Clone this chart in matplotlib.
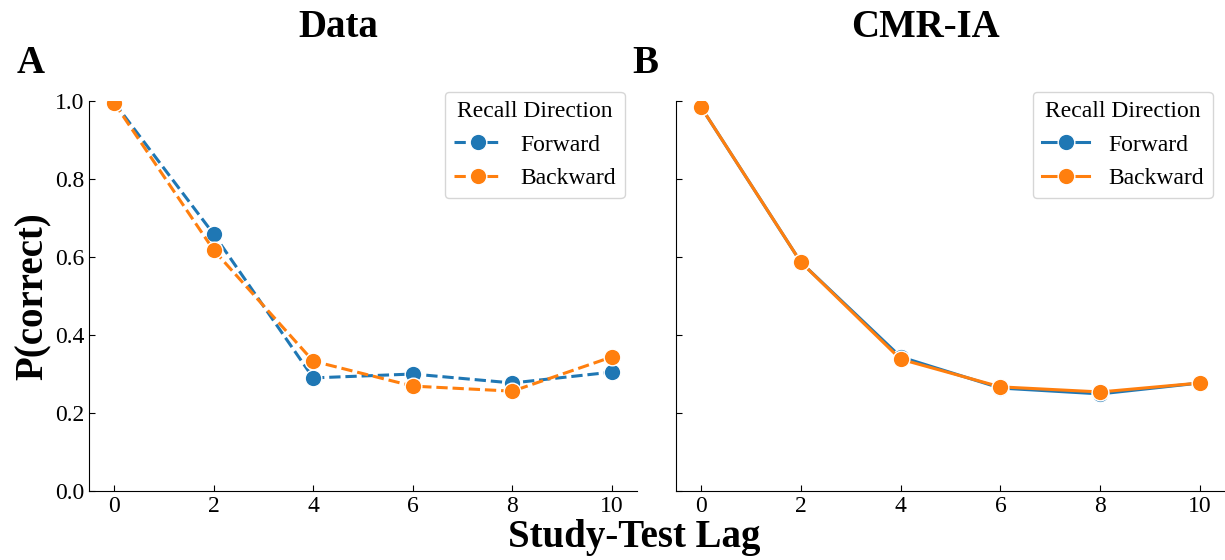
import numpy as np
import matplotlib
matplotlib.use('Agg')
import matplotlib.pyplot as plt
from matplotlib import rcParams

rcParams['font.family'] = 'serif'
rcParams['font.serif'] = ['Liberation Serif', 'DejaVu Serif']

# data
lags = [0, 2, 4, 6, 8, 10]
data_forward = [0.997, 0.659, 0.290, 0.300, 0.277, 0.305]
data_backward = [0.996, 0.618, 0.333, 0.269, 0.256, 0.344]
model_forward = [0.985, 0.587, 0.344, 0.264, 0.249, 0.277]
model_backward = [0.985, 0.587, 0.338, 0.267, 0.254, 0.277]

titles = ['Data', 'CMR-IA']
panel_letters = ['A', 'B']
series_labels = ['Forward', 'Backward']
legend_title = 'Recall Direction'
yticks = [0.0, 0.2, 0.4, 0.6, 0.8, 1.0]
xticks = [0, 2, 4, 6, 8, 10]

c_fwd = '#1f77b4'
c_bwd = '#ff7f0e'

tick_font_size = 17
legend_font_size = 17
label_font_size = 28
title_font_size = 28

fig = plt.figure(figsize=(12.25, 5.6), dpi=100)
ax1 = fig.add_axes([0.0727, 0.1232, 0.4473, 0.6964])
ax2 = fig.add_axes([0.5518, 0.1232, 0.4482, 0.6964], sharey=ax1)

panels = [(ax1, data_forward, data_backward, '--'),
          (ax2, model_forward, model_backward, '-')]

for ax, fwd, bwd, ls in panels:
    ax.plot(lags, fwd, color=c_fwd, linestyle=ls, linewidth=2.2, marker='o',
            markersize=12, markeredgecolor='white', markeredgewidth=1,
            label=series_labels[0])
    ax.plot(lags, bwd, color=c_bwd, linestyle=ls, linewidth=2.2, marker='o',
            markersize=12, markeredgecolor='white', markeredgewidth=1,
            label=series_labels[1])
    ax.set_xlim(-0.5, 10.5)
    ax.set_ylim(0, 1.0)
    ax.set_xticks(xticks)
    ax.set_yticks(yticks)
    ax.spines['top'].set_visible(False)
    ax.spines['right'].set_visible(False)
    ax.tick_params(axis='both', direction='in', length=4, labelsize=tick_font_size)
    leg = ax.legend(loc='upper right', bbox_to_anchor=(1.0, 1.054),
                    title=legend_title, fontsize=legend_font_size,
                    title_fontsize=legend_font_size, borderaxespad=0.5)

ax2.tick_params(axis='y', labelleft=False)

ax1.set_ylabel('P(correct)', fontsize=label_font_size, fontweight='bold', labelpad=2)
fig.text(0.518, 1 - 547 / 560, 'Study-Test Lag', fontsize=label_font_size,
         fontweight='bold', ha='center', va='baseline')

fig.text(338 / 1225, 1 - 37 / 560, titles[0], fontsize=title_font_size,
         fontweight='bold', ha='center', va='baseline')
fig.text(925 / 1225, 1 - 37 / 560, titles[1], fontsize=title_font_size,
         fontweight='bold', ha='center', va='baseline')
fig.text(17 / 1225, 1 - 73 / 560, panel_letters[0], fontsize=title_font_size,
         fontweight='bold', ha='left', va='baseline')
fig.text(632 / 1225, 1 - 73 / 560, panel_letters[1], fontsize=title_font_size,
         fontweight='bold', ha='left', va='baseline')

fig.savefig('out.png', dpi=100)
